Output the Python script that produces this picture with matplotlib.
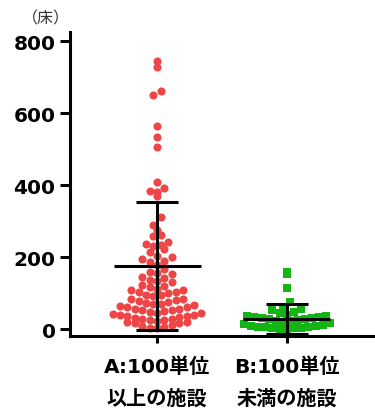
import numpy as np
import matplotlib.pyplot as plt

# 病床数 (床) per facility
categories = ['A:100単位\n以上の施設', 'B:100単位\n未満の施設']
beds_a = [2, 4, 7, 10, 13,
          17, 18, 19, 21, 23, 25, 26, 27, 29, 31, 33,
          36, 38, 39, 40, 42, 44, 46, 48, 50, 52, 53, 55, 57,
          61, 63, 64, 66, 69, 70, 72, 75, 78, 81, 83, 85,
          92, 94, 96, 100, 102, 104, 108, 110, 112,
          118, 121, 124, 130, 134, 137, 141, 144,
          152, 156, 160, 168, 178, 186, 190, 195,
          200, 203, 214, 222, 231, 233, 236, 242, 258, 262, 275, 289,
          311, 370, 380, 383, 391, 408, 506, 533, 564, 650, 661, 728, 744]
beds_b = [0, 1, 2, 3, 4, 5, 6, 7, 8, 10, 12, 14, 16,
          20, 22, 24, 25, 27, 28, 30, 32, 33, 35, 36, 37,
          40, 44, 48, 52, 56,
          62, 75, 114, 153, 158]
mean_a, sd_a = 175, 178
mean_b, sd_b = 28, 41
y_ticks = [0, 200, 400, 600, 800]

RED = '#EE4646'
GREEN = '#14B414'
LATIN_CJK = ['DejaVu Sans', 'Noto Sans CJK JP']


def row_offsets(values, row_px, step_px, px_x, px_y):
    # Prism-style scatter: points in the same height band sit side by side
    values = np.asarray(values, dtype=float)
    rows = np.floor(values * px_y / row_px).astype(int)
    offsets = np.zeros(len(values))
    for r in np.unique(rows):
        idx = np.where(rows == r)[0]
        idx = idx[np.argsort(values[idx], kind='stable')]
        n = len(idx)
        slots = np.arange(n) - (n - 1) / 2
        slots = slots[np.argsort(np.abs(slots), kind='stable')]
        offsets[idx] = slots * step_px / px_x
    return offsets


fig = plt.figure(figsize=(3.75, 4.1), dpi=100)
ax = fig.add_axes([0.187, 0.178, 0.813, 0.741])
ax.set_xlim(-0.67, 1.68)
ax.set_ylim(-19, 825)

origin = ax.transData.transform((0, 0))
px_x = ax.transData.transform((1, 0))[0] - origin[0]
px_y = ax.transData.transform((0, 1))[1] - origin[1]

off_a = row_offsets(beds_a, 8.0, 7.4, px_x, px_y)
off_b = row_offsets(beds_b, 7.0, 7.2, px_x, px_y)
ax.scatter(0 + off_a, beds_a, s=34, marker='o', color=RED,
           linewidths=0, zorder=2)
ax.scatter(1 + off_b, beds_b, s=28, marker='s', color=GREEN,
           linewidths=0, zorder=2)

for pos, m, sd in [(0, mean_a, sd_a), (1, mean_b, sd_b)]:
    ax.hlines(m, pos - 0.335, pos + 0.335, color='black', lw=2.2, zorder=3)
    ax.vlines(pos, m - sd, m + sd, color='black', lw=2.2, zorder=3)
    ax.hlines([m - sd, m + sd], pos - 0.16, pos + 0.16, color='black',
              lw=2.2, zorder=3)

for side in ['top', 'right']:
    ax.spines[side].set_visible(False)
for side in ['left', 'bottom']:
    ax.spines[side].set_linewidth(2.2)

ax.set_yticks(y_ticks)
ax.set_yticklabels([str(t) for t in y_ticks], fontsize=14.5,
                   fontweight='bold', family='DejaVu Sans')
ax.tick_params(axis='y', length=7, width=2.2, pad=3.5)
ax.set_xticks([0, 1])
ax.set_xticklabels(categories, fontsize=14.5, fontweight='bold',
                   family=LATIN_CJK, linespacing=1.85)
ax.tick_params(axis='x', length=5, width=2.2, pad=9.5)

fig.text(46 / 375, 1 - 19 / 410, '（床）', ha='center', va='center',
         fontsize=11.5, color='#333333', family=['Noto Sans CJK JP'])

fig.savefig('out.png', dpi=100)
